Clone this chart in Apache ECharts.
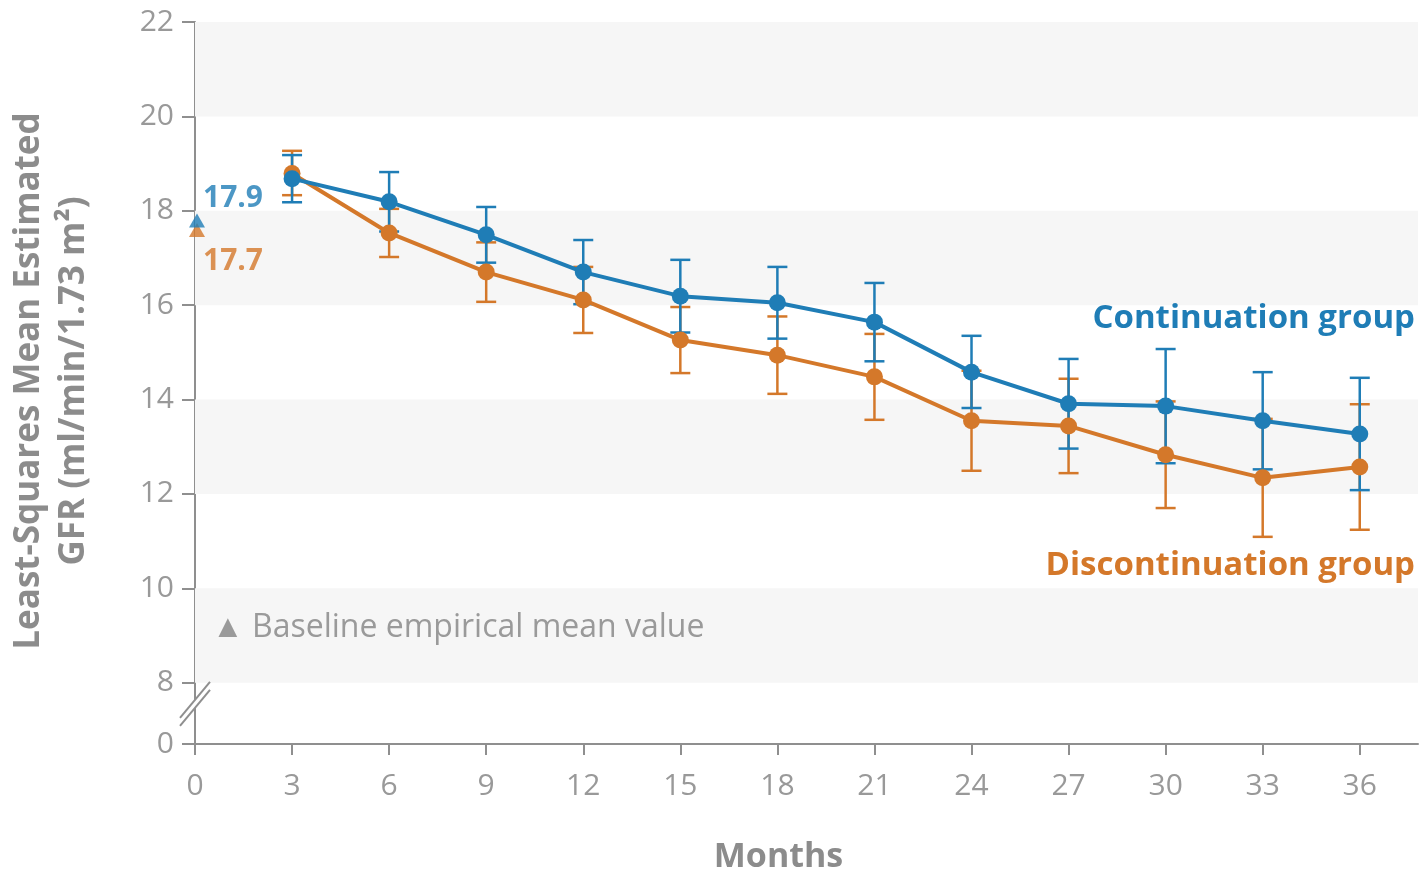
<!DOCTYPE html>
<html>
<head>
<meta charset="utf-8">
<script src="https://cdn.jsdelivr.net/npm/echarts@6/dist/echarts.min.js"></script>
<style>
html,body{margin:0;padding:0;background:#fff;}
#chart{width:1420px;height:873px;}
</style>
</head>
<body>
<div id="chart"></div>
<script>
// ---- data ----
const months = [3, 6, 9, 12, 15, 18, 21, 24, 27, 30, 33, 36];
const xTicks = [0, 3, 6, 9, 12, 15, 18, 21, 24, 27, 30, 33, 36];
const yTicks = [0, 8, 10, 12, 14, 16, 18, 20, 22];
const bandRanges = [[8, 10], [12, 14], [16, 18], [20, 22]];

const contMean = [18.68, 18.19, 17.49, 16.70, 16.19, 16.05, 15.64, 14.58, 13.91, 13.86, 13.55, 13.27];
const contLow  = [18.18, 17.56, 16.90, 16.02, 15.42, 15.29, 14.81, 13.82, 12.96, 12.65, 12.52, 12.08];
const contHigh = [19.18, 18.82, 18.08, 17.38, 16.96, 16.81, 16.47, 15.35, 14.86, 15.07, 14.58, 14.46];

const discMean = [18.79, 17.53, 16.70, 16.11, 15.26, 14.94, 14.48, 13.55, 13.44, 12.83, 12.34, 12.57];
const discLow  = [18.33, 17.02, 16.07, 15.41, 14.56, 14.12, 13.57, 12.49, 12.44, 11.70, 11.09, 11.24];
const discHigh = [19.27, 18.04, 17.33, 16.81, 15.96, 15.76, 15.39, 14.61, 14.44, 13.96, 13.59, 13.90];

const baselineCont = 17.9;
const baselineDisc = 17.7;

const yTitle = 'Least-Squares Mean Estimated\nGFR (ml/min/1.73 m²)';
const xTitle = 'Months';
const contName = 'Continuation group';
const discName = 'Discontinuation group';
const baselineNote = '▲ Baseline empirical mean value';

// ---- style ----
const BLUE = '#1f7db6';
const ORANGE = '#d4782a';
const GRAY = '#8c8c8c';
const TICKGRAY = '#999999';
const AXIS = '#8f8f8f';
const FONT = '"Open Sans", Lato, sans-serif';
const BREAK_ZERO = 6.7;   // axis position where the "0" of the broken axis sits
const X_MAX = 37.8;

const chart = echarts.init(document.getElementById('chart'));

function errSeries(name, low, high, color) {
  return {
    name: name + ' CI',
    type: 'custom',
    z: 2,
    silent: true,
    data: months.map((m, i) => [m, low[i], high[i]]),
    encode: { x: 0, y: [1, 2] },
    renderItem: function (params, api) {
      const x = api.value(0);
      const lo = api.coord([x, api.value(1)]);
      const hi = api.coord([x, api.value(2)]);
      const w = 10;
      const st = { stroke: color, lineWidth: 2.5 };
      return {
        type: 'group',
        children: [
          { type: 'line', shape: { x1: lo[0], y1: lo[1], x2: hi[0], y2: hi[1] }, style: st },
          { type: 'line', shape: { x1: lo[0] - w, y1: lo[1], x2: lo[0] + w, y2: lo[1] }, style: st },
          { type: 'line', shape: { x1: hi[0] - w, y1: hi[1], x2: hi[0] + w, y2: hi[1] }, style: st }
        ]
      };
    }
  };
}

function lineSeries(name, mean, color, z) {
  return {
    name: name,
    type: 'line',
    z: z,
    data: months.map((m, i) => [m, mean[i]]),
    symbol: 'circle',
    symbolSize: 17,
    lineStyle: { color: color, width: 4 },
    itemStyle: { color: color },
    silent: true
  };
}

const option = {
  animation: false,
  backgroundColor: '#ffffff',
  grid: { left: 195, right: 2, top: 22, bottom: 129, containLabel: false, outerBoundsMode: 'none' },
  xAxis: {
    type: 'value',
    min: 0,
    max: X_MAX,
    splitLine: { show: false },
    axisLine: { lineStyle: { color: AXIS, width: 2 } },
    axisTick: { show: true, inside: false, length: 11, customValues: xTicks, lineStyle: { color: AXIS, width: 2 } },
    axisLabel: { customValues: xTicks, color: TICKGRAY, fontSize: 30, fontFamily: FONT, margin: 27 },
    name: xTitle,
    nameLocation: 'middle',
    nameGap: 96,
    nameTextStyle: { color: GRAY, fontSize: 34, fontWeight: 'bold', fontFamily: FONT, padding: [0, 56, 0, 0] }
  },
  yAxis: {
    type: 'value',
    min: BREAK_ZERO,
    max: 22,
    splitLine: { show: false },
    axisLine: { show: true, onZero: false, lineStyle: { color: AXIS, width: 2 } },
    axisTick: { show: true, length: 13, customValues: yTicks.map(v => v === 0 ? BREAK_ZERO : v), lineStyle: { color: AXIS, width: 2 } },
    axisLabel: {
      customValues: yTicks.map(v => v === 0 ? BREAK_ZERO : v),
      formatter: function (v) { return Math.abs(v - BREAK_ZERO) < 1e-6 ? String(yTicks[0]) : String(v); },
      color: TICKGRAY, fontSize: 30, fontFamily: FONT, margin: 21
    }
  },
  series: [
    {
      name: 'bands',
      type: 'line',
      data: [],
      z: 0,
      silent: true,
      markArea: {
        silent: true,
        itemStyle: { color: '#f6f6f6' },
        data: bandRanges.map(r => [{ yAxis: r[0] }, { yAxis: r[1] }])
      }
    },
    errSeries(discName, discLow, discHigh, ORANGE),
    errSeries(contName, contLow, contHigh, BLUE),
    lineSeries(discName, discMean, ORANGE, 3),
    lineSeries(contName, contMean, BLUE, 4),
    {
      name: 'Baseline discontinuation',
      type: 'scatter',
      z: 5,
      symbol: 'triangle',
      symbolSize: [16, 14],
      symbolOffset: [2, 5],
      itemStyle: { color: ORANGE },
      data: [[0, baselineDisc]],
      label: {
        show: true, position: 'right', distance: -2, offset: [0, 32],
        formatter: p => p.value[1].toFixed(1),
        color: ORANGE, fontSize: 30, fontWeight: 'bold', fontFamily: FONT
      }
    },
    {
      name: 'Baseline continuation',
      type: 'scatter',
      z: 6,
      symbol: 'triangle',
      symbolSize: [16, 14],
      symbolOffset: [2, 5],
      itemStyle: { color: BLUE },
      data: [[0, baselineCont]],
      label: {
        show: true, position: 'right', distance: -2, offset: [0, -22],
        formatter: p => p.value[1].toFixed(1),
        color: BLUE, fontSize: 30, fontWeight: 'bold', fontFamily: FONT
      }
    }
  ]
};

chart.setOption(option);

// annotations; the axis-break mark is placed through the axis scale
(function () {
  const p = chart.convertToPixel({ gridIndex: 0 }, [0, 7.55]);
  const cx = p[0], cy = p[1];
  const dx = 15, dy = 18, off = 4;
  chart.setOption({
    graphic: [
      {
        type: 'text', id: 'ytitle', z: 100,
        x: 52, y: 381,
        rotation: Math.PI / 2,
        style: {
          text: yTitle,
          fill: GRAY, fontSize: 35, fontWeight: 'bold', fontFamily: FONT,
          align: 'center', verticalAlign: 'middle', lineHeight: 45
        }
      },
      {
        type: 'text', id: 'cont', z: 100, right: 5, top: 302,
        style: { text: contName, fill: BLUE, fontSize: 33, fontWeight: 'bold', fontFamily: FONT }
      },
      {
        type: 'text', id: 'disc', z: 100, right: 5, top: 549,
        style: { text: discName, fill: ORANGE, fontSize: 33, fontWeight: 'bold', fontFamily: FONT }
      },
      {
        type: 'text', id: 'note', z: 100, left: 212, top: 612,
        style: { text: baselineNote, fill: '#9a9a9a', fontSize: 32, fontFamily: FONT }
      },
      {
        type: 'polygon', id: 'brkfill', z: 100,
        shape: { points: [[cx - dx, cy + dy - off], [cx + dx, cy - dy - off], [cx + dx, cy - dy + off], [cx - dx, cy + dy + off]] },
        style: { fill: '#ffffff' }
      },
      {
        type: 'line', id: 'brk1', z: 101,
        shape: { x1: cx - dx, y1: cy + dy - off, x2: cx + dx, y2: cy - dy - off },
        style: { stroke: AXIS, lineWidth: 2 }
      },
      {
        type: 'line', id: 'brk2', z: 101,
        shape: { x1: cx - dx, y1: cy + dy + off, x2: cx + dx, y2: cy - dy + off },
        style: { stroke: AXIS, lineWidth: 2 }
      }
    ]
  });
})();
</script>
</body>
</html>
